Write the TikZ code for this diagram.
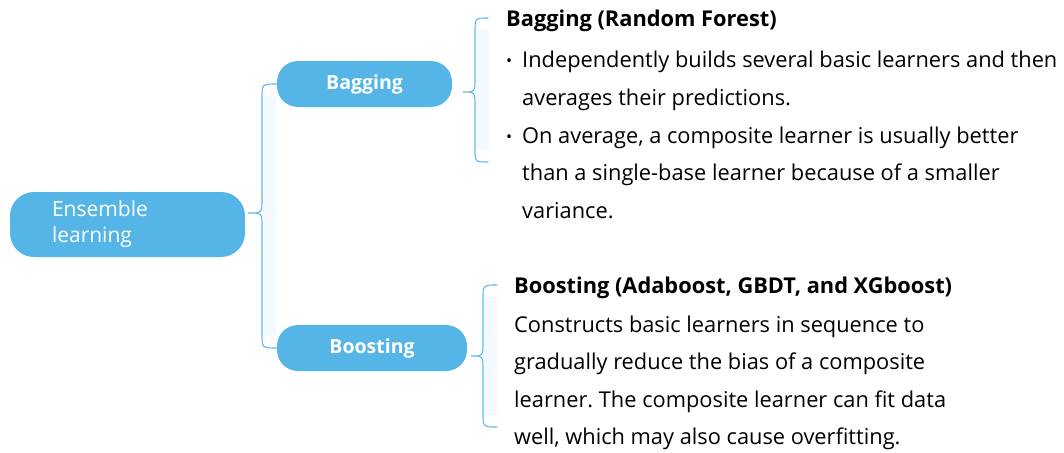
\documentclass[tikz,border=0pt]{standalone}
\usepackage{fontspec}
\setmainfont{Open Sans}
\usetikzlibrary{positioning,calc}
\definecolor{mindblue}{HTML}{55B5E7}
\definecolor{bracecol}{HTML}{62BAE8}
\definecolor{shadecol}{HTML}{F3F9FE}
\newcommand{\bul}{\makebox[16pt][l]{\raisebox{1pt}{\fontsize{16}{16}\selectfont\textbullet}}}
\newcommand{\ind}{\hspace*{16pt}}
\frenchspacing

\begin{document}
\begin{tikzpicture}[
    x=1pt,y=-1pt,
    line cap=round,
    line join=round,
    rootbox/.style={fill=mindblue,rounded corners=24pt,minimum width=235pt,minimum height=65pt,
        inner xsep=42pt,text width=151pt,align=left,text=white,font=\fontsize{21}{26}\selectfont},
    branchbox/.style={fill=mindblue,rounded corners=21pt,minimum height=46pt,text=white,
        font=\fontsize{19.5}{22}\selectfont\bfseries},
    brace/.style={draw=bracecol,line width=1.1pt},
    shade/.style={fill=shadecol},
    notes/.style={anchor=north west,inner sep=0pt,align=left},
]
\useasboundingbox (0,0) rectangle (1064,452);

% boxes
\node[rootbox] (ens) at (127.5,224.5) {Ensemble\\learning};
\node[branchbox,minimum width=175pt] (bag) at (364.5,84) {Bagging};
\node[branchbox,minimum width=190pt] (boost) at (372,348) {Boosting};

% notes
\node[notes,font=\fontsize{21.8}{37.8}\selectfont] (bagtxt) at (506,10)
    {\textbf{Bagging (Random Forest)}\\[3pt]
     \bul Independently builds several basic learners and then\\
     \ind averages their predictions.\\
     \bul On average, a composite learner is usually better\\
     \ind than a single-base learner because of a smaller\\
     \ind variance.};
\node[notes,font=\fontsize{21.8}{37.3}\selectfont] (boosttxt) at (514,277)
    {\textbf{Boosting (Adaboost, GBDT, and XGboost)}\\[1.5pt]
     Constructs basic learners in sequence to\\
     gradually reduce the bias of a composite\\
     learner. The composite learner can fit data\\
     well, which may also cause overfitting.};

% brace ends
\coordinate (ensTip) at ($(ens.east)+(3,-11.5)$);
\coordinate (bagTip) at ($(bag.east)+(11,8)$);
\coordinate (bagTop) at (488,18);
\coordinate (bagBot) at (488,162);
\coordinate (boostTip) at ($(boost.east)+(4,8)$);
\coordinate (boostTop) at (497,285);
\coordinate (boostBot) at (497,427);

% light bands behind the braces
\fill[shade] (263,96) rectangle (276,336);
\fill[shade] (476,30) rectangle (489,150);
\fill[shade] (484,297) rectangle (497,415);

% braces
\draw[brace] (bag.west) .. controls (262,84) .. (262,98) -- (262,199)
    .. controls (262,213) .. (ensTip) .. controls (262,213) .. (262,227)
    -- (262,334) .. controls (262,348) .. (boost.west);
\draw[brace] (bagTop) .. controls (475,18) .. (475,32) -- (475,78)
    .. controls (475,92) .. (bagTip) .. controls (475,92) .. (475,106)
    -- (475,148) .. controls (475,162) .. (bagBot);
\draw[brace] (boostTop) .. controls (483,285) .. (483,299) -- (483,342)
    .. controls (483,356) .. (boostTip) .. controls (483,356) .. (483,370)
    -- (483,413) .. controls (483,427) .. (boostBot);

\end{tikzpicture}
\end{document}
